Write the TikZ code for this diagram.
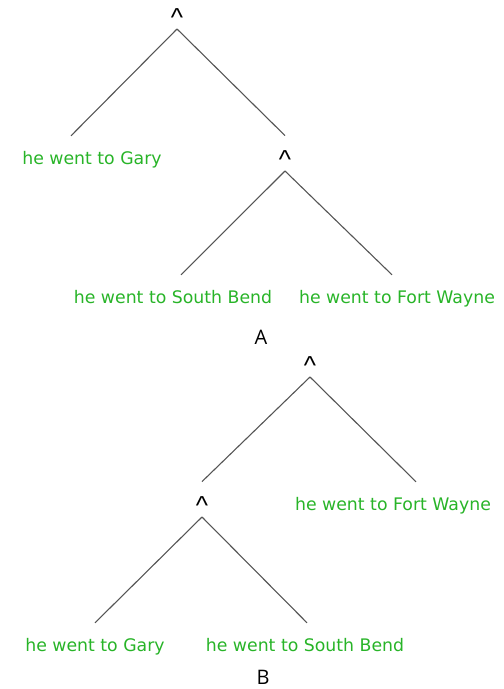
\documentclass[tikz,border=0pt]{standalone}
\usepackage{fontspec}
\newfontfamily\leaffont{DejaVu Sans}
\newfontfamily\opfont{Liberation Sans}
\newfontfamily\labelfont{Open Sans}
\definecolor{leafgreen}{RGB}{40,180,40}
\definecolor{branchgray}{RGB}{85,85,85}

\begin{document}
\begin{tikzpicture}[x=1pt, y=-1pt,
    leaf/.style={text=leafgreen, font=\leaffont\fontsize{17.3}{20}\selectfont, inner sep=0pt, text height=28pt, text depth=4pt, anchor=base},
    op/.style={font=\opfont\fontsize{26}{30}\selectfont, inner sep=0pt, text height=33pt, text depth=2pt, anchor=south},
    branch/.style={draw=branchgray, line width=1.1pt},
    treelabel/.style={font=\labelfont\fontsize{20}{24}\selectfont, anchor=base}]
    \useasboundingbox (0,0) rectangle (504,689);

    % tree A
    \node[op] (rootA) at (177,29) {\textasciicircum};
    \node[leaf] (garyA) at (92,164) {he went to Gary};
    \node[op] (subA) at (285,171) {\textasciicircum};
    \node[leaf] (southA) at (173,303) {he went to South Bend};
    \node[leaf] (fortA) at (397,303) {he went to Fort Wayne};
    \node[treelabel] (labelA) at (261,344) {A};

    \draw[branch] (rootA.south) -- ([xshift=-21pt]garyA.north);
    \draw[branch] (rootA.south) -- (subA.north);
    \draw[branch] (subA.south) -- ([xshift=8pt]southA.north);
    \draw[branch] (subA.south) -- ([xshift=-5pt]fortA.north);

    % tree B
    \node[op] (rootB) at (310,377) {\textasciicircum};
    \node[op] (subB) at (202,517) {\textasciicircum};
    \node[leaf] (fortB) at (393,510) {he went to Fort Wayne};
    \node[leaf] (garyB) at (95,651) {he went to Gary};
    \node[leaf] (southB) at (305,651) {he went to South Bend};
    \node[treelabel] (labelB) at (263,684) {B};

    \draw[branch] (rootB.south) -- (subB.north);
    \draw[branch] (rootB.south) -- ([xshift=23pt]fortB.north);
    \draw[branch] (subB.south) -- (garyB.north);
    \draw[branch] (subB.south) -- ([xshift=2pt]southB.north);

\end{tikzpicture}
\end{document}
